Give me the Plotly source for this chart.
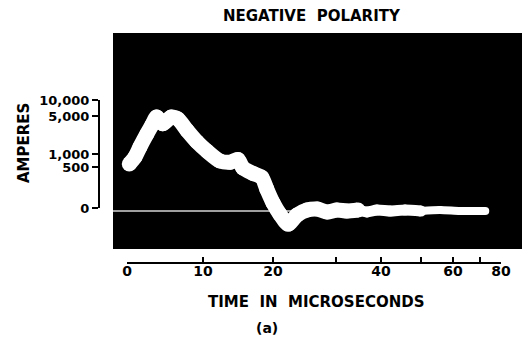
import numpy as np
import plotly.graph_objects as go

# ---- data ----
TIME_US = [0.3, 1.05, 1.7, 2.6, 3.3, 3.9, 4.7, 5.8, 6.7, 7.9, 9.2, 10.6, 12.4, 13.9,
           15.0, 15.7, 17.1, 18.4, 19.1, 20.0, 21.1, 22.4, 23.8, 25.4, 27.0, 28.6,
           30.2, 32.4, 34.9, 36.9, 39.1, 42.3, 46.0, 50.0, 55.9, 62.6, 72.5]
CURRENT_A = [730, 1000, 2050, 3400, 4400, 5600, 4500, 5600, 5000, 3800, 2600, 1600, 850, 800,
             900, 580, 460, 410, 270, 100, -40, -160, -50, 12, 24, -12,
             12, 0, 12, -12, 12, 0, 12, 0, 12, 0, 0]

# axis tick definitions
X_TICK_TIMES = [0, 10, 20, 30, 40, 50, 60, 70, 80]
X_TICK_TEXT = ["0", "10", "20", "", "40", "", "60", "", "80"]
Y_TICK_AMPS = [0, 500, 1000, 5000, 10000]
Y_TICK_TEXT = ["0", "500", "1,000", "5,000", "10,000"]

# ---- nonlinear scales of the oscillograph (sweep and amplitude) ----
SWEEP_POS = [0, 76, 146, 209, 254, 294, 326, 353, 374]
AMP_ANCHORS = [-1000, 0, 500, 1000, 5000, 10000]
AMP_POS = [-82, 0, 41, 54, 92, 108]


def tscale(t):
    return np.interp(np.asarray(t, float), X_TICK_TIMES, SWEEP_POS)


def ascale(a):
    return np.interp(np.asarray(a, float), AMP_ANCHORS, AMP_POS)


xs = tscale(TIME_US)
ys = ascale(CURRENT_A)
t = np.asarray(TIME_US)

FONT = "DejaVu Sans"
fig = go.Figure()

# trace drawn as a thick glowing band, thinning along the sweep
segments = [(0, 34.9, 15), (34.9, 50.0, 11), (50.0, 80, 8)]
for t0, t1, w in segments:
    m = (t >= t0) & (t <= t1)
    fig.add_trace(go.Scatter(x=xs[m], y=ys[m], mode="lines+markers",
                             line=dict(color="white", width=w, shape="spline", smoothing=0.7),
                             marker=dict(color="white", size=w, line=dict(width=0)),
                             showlegend=False, hoverinfo="skip"))

# dummy traces to register the tick axes
fig.add_trace(go.Scatter(x=[None], y=[None], xaxis="x2", yaxis="y", showlegend=False))
fig.add_trace(go.Scatter(x=[None], y=[None], xaxis="x", yaxis="y2", showlegend=False))

W, H = 522, 343
L, R, T, B = 100, 0, 32, 81
pw, ph = W - L - R, H - T - B


def px(xp):
    return (xp - L) / pw


def py(yp):
    return (H - B - yp) / ph


xtickfont = dict(family=FONT, size=14, color="black", weight="bold")
ytickfont = dict(family=FONT, size=13, color="black", weight="bold")
labfont = dict(family=FONT, size=15, color="black", weight="bold")

fig.update_layout(
    width=W, height=H, autosize=False,
    margin=dict(l=L, r=R, t=T, b=B, autoexpand=False),
    paper_bgcolor="white", plot_bgcolor="rgba(0,0,0,0)",
    xaxis=dict(range=[-27, 395], visible=False, domain=[0, 1], automargin=False),
    yaxis=dict(range=[-51, 179], visible=False, domain=[0, 1], automargin=False),
    xaxis2=dict(domain=[px(127), px(501)], anchor="y", range=[0, 374], automargin=False,
                tickmode="array", tickvals=tscale(X_TICK_TIMES), ticktext=X_TICK_TEXT,
                ticks="inside", ticklen=5, tickwidth=2, tickcolor="black",
                ticklabelstandoff=-5,
                showline=True, linewidth=2, linecolor="black",
                showgrid=False, zeroline=False, tickfont=xtickfont),
    yaxis2=dict(domain=[py(208), py(100)], anchor="x", range=[0, 108], automargin=False,
                tickmode="array", tickvals=ascale(Y_TICK_AMPS), ticktext=Y_TICK_TEXT,
                ticks="outside", ticklen=6, tickwidth=2, tickcolor="black",
                showline=True, linewidth=2, linecolor="black",
                showgrid=False, zeroline=False, tickfont=ytickfont),
    shapes=[
        dict(type="rect", xref="paper", yref="paper", x0=px(113), x1=1.0,
             y0=py(249), y1=py(33), fillcolor="black", line=dict(width=0), layer="below"),
        dict(type="line", xref="paper", yref="y", x0=px(113), x1=px(480), y0=0, y1=0,
             line=dict(color="#d4d4d4", width=1.5), layer="below"),
    ],
    annotations=[
        dict(text="NEGATIVE  POLARITY", x=px(312), y=py(16), xref="paper", yref="paper",
             xanchor="center", yanchor="middle", showarrow=False, font=labfont),
        dict(text="AMPERES", x=px(24), y=py(143), xref="paper", yref="paper", textangle=-90,
             xanchor="center", yanchor="middle", showarrow=False, font=labfont),
        dict(text="TIME  IN  MICROSECONDS", x=px(316), y=py(302), xref="paper", yref="paper",
             xanchor="center", yanchor="middle", showarrow=False, font=labfont),
        dict(text="(a)", x=px(267), y=py(328), xref="paper", yref="paper",
             xanchor="center", yanchor="middle", showarrow=False,
             font=dict(family=FONT, size=14, color="black", weight="bold")),
    ],
)

fig.write_html(
    "out.html",
    config={"displayModeBar": False, "responsive": False},
    post_script="document.body.style.margin='0';document.body.style.overflow='hidden';",
)
